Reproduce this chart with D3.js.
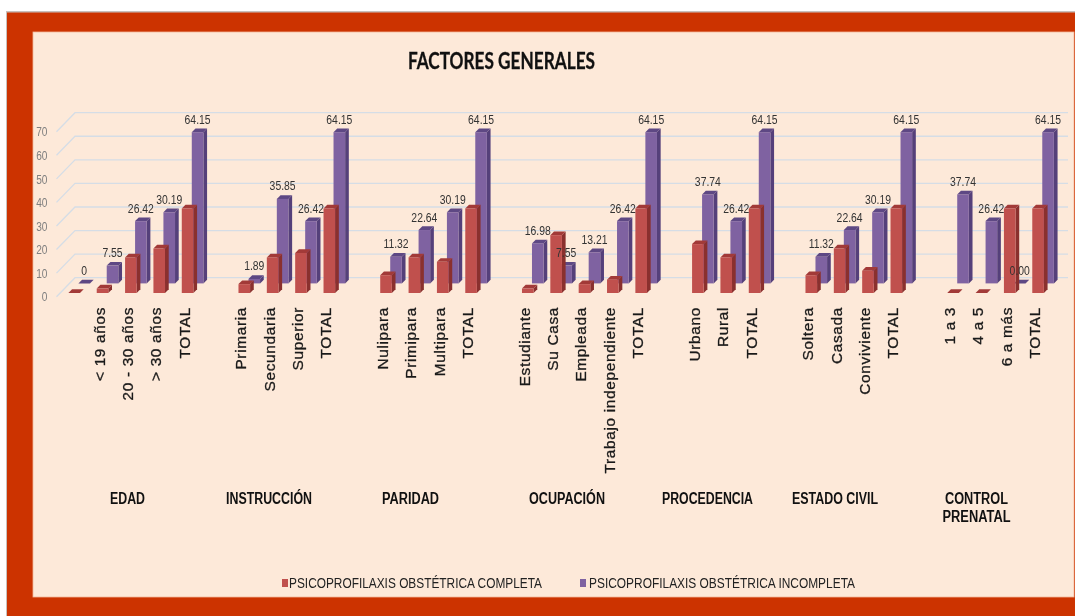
<!DOCTYPE html>
<html><head><meta charset="utf-8">
<script src="https://cdn.jsdelivr.net/npm/d3@7/dist/d3.min.js"></script>
<style>html,body{margin:0;padding:0;background:#fff;overflow:hidden}svg{display:block;filter:blur(.35px)}</style>
</head><body><svg id="c" width="1075" height="616"></svg>
<script>
const categories = ["", "< 19 años","20 - 30 años","> 30 años","TOTAL", "",
  "Primaria","Secundaria","Superior","TOTAL", "",
  "Nulipara","Primipara","Multipara","TOTAL", "",
  "Estudiante","Su Casa","Empleada","Trabajo independiente","TOTAL", "",
  "Urbano","Rural","TOTAL", "",
  "Soltera","Casada","Conviviente","TOTAL", "",
  "1 a 3","4 a 5","6 a más","TOTAL"];
const completa = [0,1.89,15.09,18.87,35.85, null,
  3.77,15.09,16.98,35.85, null,
  7.55,15.09,13.21,35.85, null,
  1.89,24.53,3.77,5.66,35.85, null,
  20.75,15.09,35.85, null,
  7.55,18.87,9.43,35.85, null,
  0,0,35.85,35.85];
const incompleta = [0,7.55,26.42,30.19,64.15, null,
  1.89,35.85,26.42,64.15, null,
  11.32,22.64,30.19,64.15, null,
  16.98,7.55,13.21,26.42,64.15, null,
  37.74,26.42,64.15, null,
  11.32,22.64,30.19,64.15, null,
  37.74,26.42,0,64.15];
const dataLabels = ["0","7.55","26.42","30.19","64.15", "",
  "1.89","35.85","26.42","64.15", "",
  "11.32","22.64","30.19","64.15", "",
  "16.98","7.55","13.21","26.42","64.15", "",
  "37.74","26.42","64.15", "",
  "11.32","22.64","30.19","64.15", "",
  "37.74","26.42","0.00","64.15"];
const groupNames = [["EDAD"],["INSTRUCCIÓN"],["PARIDAD"],["OCUPACIÓN"],["PROCEDENCIA"],["ESTADO CIVIL"],["CONTROL","PRENATAL"]];
const groupCenters = [127.5,269,410.5,567,707.5,835,976.5];
const groupWidths = [[35],[86],[57],[76],[91],[86],[63,68]];
const yTicks = [0,10,20,30,40,50,60,70];
const seriesNames = ["PSICOPROFILAXIS OBSTÉTRICA COMPLETA","PSICOPROFILAXIS OBSTÉTRICA INCOMPLETA"];

const colors = {red:{front:"#C0504D",side:"#8A302E",top:"#A23A38"},
                pur:{front:"#7F62A1",side:"#55407A",top:"#5E4884"}};
const sans = "'Liberation Sans',Arial,sans-serif";
const svg = d3.select("#c");

// frame
svg.append("rect").attr("x",6).attr("y",11).attr("width",1069).attr("height",605).attr("fill","#C8C0BC");
svg.append("rect").attr("x",7).attr("y",12.5).attr("width",1068).attr("height",604).attr("fill","#CC3300");
svg.append("rect").attr("x",33).attr("y",32).attr("width",1041).attr("height",565).attr("fill","#FDE9D9").attr("stroke","#F3B79A").attr("stroke-width",.8);

// scales
const x = d3.scaleBand().domain(d3.range(categories.length)).range([60,60+28.35*categories.length]);
const y = d3.scaleLinear().domain([0,70]).range([296.7,131.7]);
const backDx = 18.5, backDy = -19, barW = 11.6, depth = 3.7;
const redOff = {dx:0, dy:-3.7}, purOff = {dx:10, dy:-13.3};
const unit = y(0)-y(1);

// gridlines
const grid = svg.append("g").attr("stroke","#D5DDE6").attr("stroke-width",1.3).attr("fill","none");
yTicks.forEach(t=>{
  grid.append("path").attr("d",`M${56.5},${y(t)}L${56.5+backDx},${y(t)+backDy}L1068,${y(t)+backDy}`);
});

// axis
const axis = svg.append("g").attr("transform","translate(47.5,0) scale(.78,1)")
  .call(d3.axisLeft(y).tickValues(yTicks).tickSize(0).tickPadding(0));
axis.select(".domain").remove();
axis.selectAll("text").attr("font-family",sans).attr("font-size",13).attr("fill","#7F7F7F");

function bar(g, i, v, off, c){
  if(v==null) return;
  const l = x(i)+x.bandwidth()/2-barW/2+off.dx, r = l+barW;
  const b = y(0)+off.dy, t = b-v*unit;
  g.append("path").attr("d",`M${r},${t}L${r+depth},${t-depth}L${r+depth},${b-depth}L${r},${b}Z`).attr("fill",c.side);
  g.append("path").attr("d",`M${l},${t}L${l+depth},${t-depth}L${r+depth},${t-depth}L${r},${t}Z`).attr("fill",c.top);
  if(v>0) g.append("rect").attr("x",l).attr("y",t).attr("width",barW).attr("height",b-t).attr("fill",c.front);
}
const gPur = svg.append("g"), gRed = svg.append("g");
incompleta.forEach((v,i)=>bar(gPur,i,v,purOff,colors.pur));
completa.forEach((v,i)=>bar(gRed,i,v,redOff,colors.red));

// data labels
svg.append("g").selectAll("text").data(incompleta.map((v,i)=>({v,i,s:dataLabels[i]})).filter(d=>d.v!=null))
  .join("text")
  .attr("transform",d=>`translate(${x(d.i)+x.bandwidth()/2+purOff.dx},${y(0)+purOff.dy-d.v*unit-8.5}) scale(.8,1)`)
  .attr("text-anchor","middle").attr("font-family",sans).attr("font-size",13).attr("fill","#333")
  .text(d=>d.s);

// category labels
svg.append("g").selectAll("text").data(categories.map((s,i)=>({s,i})).filter(d=>d.s))
  .join("text")
  .attr("transform",d=>`translate(${x(d.i)+x.bandwidth()/2+2},307) rotate(-90) scale(1.1,1)`)
  .attr("text-anchor","end").attr("font-family",sans)
  .attr("font-size",14).attr("letter-spacing",.6).attr("fill","#1a1a1a").attr("stroke","#1a1a1a").attr("stroke-width",.3)
  .text(d=>d.s);

// group labels
groupNames.forEach((lines,gi)=>{
  lines.forEach((s,li)=>{
    svg.append("text").attr("x",groupCenters[gi]).attr("y",504+li*18)
      .attr("text-anchor","middle").attr("font-family",sans)
      .attr("font-weight",700).attr("font-size",16).attr("fill","#111")
      .attr("textLength",groupWidths[gi][li]).attr("lengthAdjust","spacingAndGlyphs").text(s);
  });
});

// title
svg.append("text").attr("x",501.5).attr("y",69).attr("text-anchor","middle")
  .attr("font-family","Lato,'Liberation Sans',sans-serif").attr("font-weight",700).attr("font-size",22).attr("fill","#111")
  .attr("stroke","#111").attr("stroke-width",.3)
  .attr("textLength",187).attr("lengthAdjust","spacingAndGlyphs").text("FACTORES GENERALES");

// legend
[[282,289,253,colors.red.front],[580,589,266,colors.pur.front]].forEach((p,i)=>{
  svg.append("rect").attr("x",p[0]).attr("y",579).attr("width",6).attr("height",8).attr("fill",p[3]);
  svg.append("text").attr("x",p[1]).attr("y",588).attr("font-family",sans)
    .attr("font-size",14).attr("fill","#222").attr("textLength",p[2]).attr("lengthAdjust","spacingAndGlyphs").text(seriesNames[i]);
});
</script></body></html>
